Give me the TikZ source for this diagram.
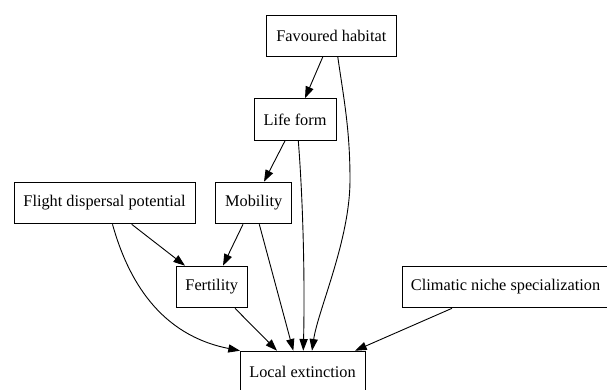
\documentclass[tikz,border=0pt]{standalone}
\usepackage{fontspec}
\setmainfont{Liberation Serif}
\newfontfamily\nodeserif{Liberation Serif}
\usetikzlibrary{arrows.meta}
\begin{document}
\begin{tikzpicture}[x=1pt,y=-1pt,
  box/.style={draw,line width=0.9pt,minimum height=41.7pt,inner sep=0pt,
    font=\nodeserif\fontsize{16.3}{19}\selectfont,anchor=center},
  edge/.style={line width=0.9pt,-{Triangle[length=11.7pt,width=8.2pt]}}]
\useasboundingbox (0,0) rectangle (607,389);
\node[box,minimum width=129.3pt] (fav) at (331.3,35.8) {Favoured habitat};
\node[box,minimum width=82pt] (life) at (295,119.5) {Life form};
\node[box,minimum width=76pt] (mob) at (253.7,203) {Mobility};
\node[box,minimum width=181pt] (flight) at (104.5,203) {Flight dispersal potential};
\node[box,minimum width=71.3pt] (fert) at (211.7,287) {Fertility};
\node[box,minimum width=207pt] (clim) at (505.5,287) {Climatic niche specialization};
\node[box,minimum width=125pt] (local) at (302.5,372) {Local extinction};
\draw[edge] ([xshift=-8.6pt]fav.south) -- ([xshift=10pt]life.north);
\draw[edge] ([xshift=6.5pt]fav.south) .. controls (344,100) and (350,130) .. (350,180)
  .. controls (350,240) and (318,310) .. ([xshift=9.5pt]local.north);
\draw[edge] ([xshift=-10pt]life.south) -- ([xshift=10.3pt]mob.north);
\draw[edge] ([xshift=3.3pt]life.south) .. controls (303,200) and (305,280) .. ([xshift=0.8pt]local.north);
\draw[edge] ([xshift=27.2pt]flight.south) -- ([xshift=-26.7pt]fert.north);
\draw[edge] ([xshift=8pt]flight.south) .. controls (128,280) and (160,335) .. ([xshift=-62.5pt]local.north);
\draw[edge] ([xshift=-10.7pt]mob.south) -- ([xshift=11.3pt]fert.north);
\draw[edge] ([xshift=5.6pt]mob.south) -- ([xshift=-9.2pt]local.north);
\draw[edge] ([xshift=23.3pt]fert.south) -- ([xshift=-25.5pt]local.north);
\draw[edge] ([xshift=-53.5pt]clim.south) -- ([xshift=52.5pt]local.north);
\end{tikzpicture}
\end{document}
